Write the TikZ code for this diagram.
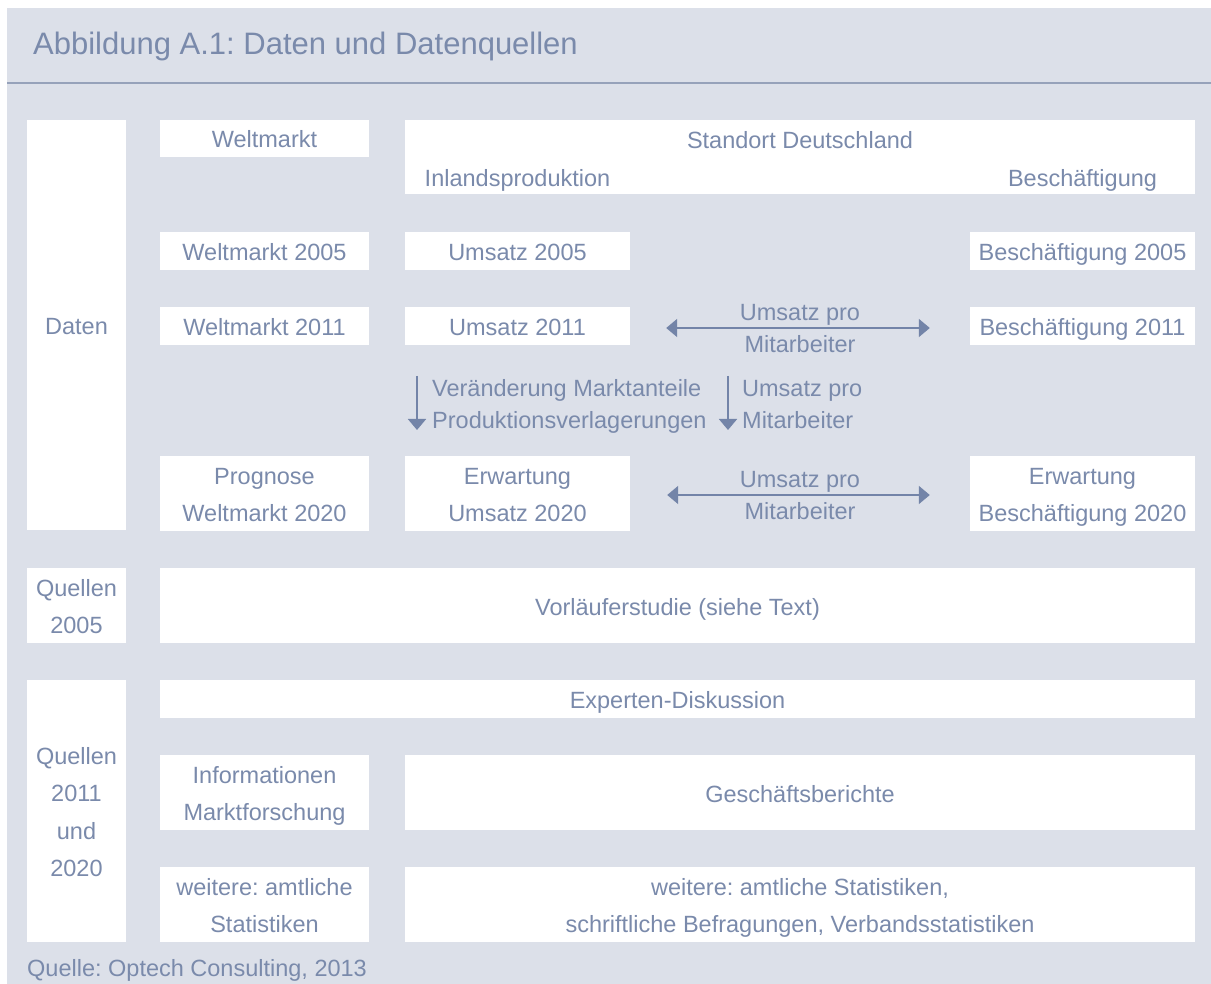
\documentclass[tikz,border=0pt]{standalone}
\usepackage{fontspec}
\setmainfont{Liberation Sans}
\usetikzlibrary{arrows.meta}
\definecolor{bgc}{RGB}{220,224,233}
\definecolor{txc}{RGB}{122,138,171}
\definecolor{lnc}{RGB}{150,162,186}
\definecolor{arc}{RGB}{115,132,168}
\newcommand{\st}{\rule[-5.2pt]{0pt}{29.4pt}}
\frenchspacing
\begin{document}
\begin{tikzpicture}[x=1pt,y=-1pt,
  font=\fontsize{23.5}{37.5}\selectfont, text=txc,
  box/.style={fill=white, draw=none, inner sep=0pt, align=center, text=txc},
  txt/.style={inner sep=0pt, align=center, text=txc},
  lbl/.style={inner sep=0pt, text=txc, font=\fontsize{23.5}{32}\selectfont},
  arr/.style={draw=arc, line width=1.8pt},
  tip/.tip={Triangle[length=11pt,width=18pt]}
]
\useasboundingbox (0,0) rectangle (1211,984);
\fill[bgc] (7,8) rectangle (1211,984);
\draw[lnc, line width=2pt] (7,83) -- (1211,83);
\node[anchor=base west, inner sep=0pt, font=\fontsize{31}{37}\selectfont] (title) at (33,55) {Abbildung A.1: Daten und Datenquellen};

% Daten block
\node[box, minimum width=99pt, minimum height=410pt] (daten) at (76.5,325) {\st Daten};
\node[box, minimum width=209pt, minimum height=37pt] (wm) at (264.5,138.5) {\st Weltmarkt};
\node[box, minimum width=790pt, minimum height=74pt] (sd) at (800,157) {};
\node[txt] (sdt) at (800,139) {\st Standort Deutschland};
\node[txt] (inl) at (517.5,177) {\st Inlandsproduktion};
\node[txt] (bes) at (1082.5,177) {\st Beschäftigung};

\node[box, minimum width=209pt, minimum height=38pt] (wm05) at (264.5,251) {\st Weltmarkt 2005};
\node[box, minimum width=225pt, minimum height=38pt] (u05) at (517.5,251) {\st Umsatz 2005};
\node[box, minimum width=225pt, minimum height=38pt] (b05) at (1082.5,251) {\st Beschäftigung 2005};

\node[box, minimum width=209pt, minimum height=38pt] (wm11) at (264.5,326) {\st Weltmarkt 2011};
\node[box, minimum width=225pt, minimum height=38pt] (u11) at (517.5,326) {\st Umsatz 2011};
\node[box, minimum width=225pt, minimum height=38pt] (b11) at (1082.5,326) {\st Beschäftigung 2011};
\draw[arr, tip-tip, shorten <=36pt, shorten >=40pt] ([yshift=-2pt]u11.east) -- ([yshift=-2pt]b11.west);
\node[lbl, align=center] (l11) at (800,327) {\st Umsatz pro\\\st Mitarbeiter};

\coordinate (v1a) at (417,376);
\coordinate (v1b) at (417,430);
\draw[arr, -tip] (v1a) -- (v1b);
\node[lbl, align=left, anchor=west] (lv1) at (432,403) {\st Veränderung Marktanteile\\\st Produktionsverlagerungen};
\coordinate (v2a) at (728,376);
\coordinate (v2b) at (728,430);
\draw[arr, -tip] (v2a) -- (v2b);
\node[lbl, align=left, anchor=west] (lv2) at (742,403) {\st Umsatz pro\\\st Mitarbeiter};

\node[box, minimum width=209pt, minimum height=75pt] (wmP) at (264.5,493.5) {\st Prognose\\\st Weltmarkt 2020};
\node[box, minimum width=225pt, minimum height=75pt] (uP) at (517.5,493.5) {\st Erwartung\\\st Umsatz 2020};
\node[box, minimum width=225pt, minimum height=75pt] (bP) at (1082.5,493.5) {\st Erwartung\\\st Beschäftigung 2020};
\draw[arr, tip-tip, shorten <=37pt, shorten >=40pt] ([yshift=-1.5pt]uP.east) -- ([yshift=-1.5pt]bP.west);
\node[lbl, align=center] (lP) at (800,494) {\st Umsatz pro\\\st Mitarbeiter};

% Quellen 2005
\node[box, minimum width=99pt, minimum height=75pt] (q05) at (76.5,605.5) {\st Quellen\\\st 2005};
\node[box, minimum width=1035pt, minimum height=75pt] (vl) at (677.5,605.5) {\st Vorläuferstudie (siehe Text)};

% Quellen 2011 und 2020
\node[box, minimum width=99pt, minimum height=262pt] (q11) at (76.5,811) {\st Quellen\\\st 2011\\\st und\\\st 2020};
\node[box, minimum width=1035pt, minimum height=38pt] (exp) at (677.5,699) {\st Experten-Diskussion};
\node[box, minimum width=209pt, minimum height=75pt] (info) at (264.5,792.5) {\st Informationen\\\st Marktforschung};
\node[box, minimum width=790pt, minimum height=75pt] (gb) at (800,792.5) {\st Geschäftsberichte};
\node[box, minimum width=209pt, minimum height=75pt] (w1) at (264.5,904.5) {\st weitere: amtliche\\\st Statistiken};
\node[box, minimum width=790pt, minimum height=75pt] (w2) at (800,904.5) {\st weitere: amtliche Statistiken,\\\st schriftliche Befragungen, Verbandsstatistiken};

\node[inner sep=0pt, anchor=base west] (src) at (27,976) {Quelle: Optech Consulting, 2013};
\end{tikzpicture}
\end{document}
